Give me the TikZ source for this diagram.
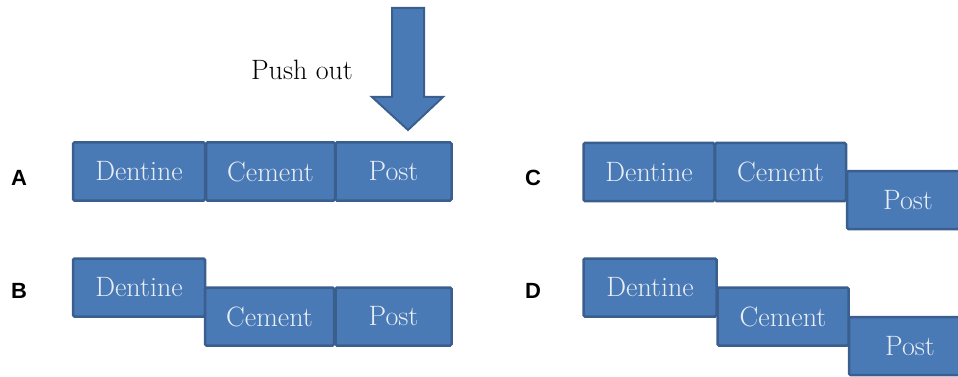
\documentclass[tikz,border=0pt]{standalone}
\usepackage{fontspec}
\newfontfamily\labelfont{Liberation Sans}
\definecolor{boxfill}{HTML}{4A7AB5}
\definecolor{boxline}{HTML}{3A5F8E}
\definecolor{boxtext}{HTML}{E8EEF6}
\begin{document}
\begin{tikzpicture}[x=1pt,y=-1pt,
  layer/.style={draw=boxline, fill=boxfill, line width=2.5pt, rounded corners=1.5pt,
    text=boxtext, font=\fontsize{28}{28}\selectfont, inner sep=0pt,
    minimum height=#1},
  layer/.default=58pt,
  panel/.style={font=\labelfont\bfseries\fontsize{22}{22}\selectfont, text=black, inner sep=0pt}]
\clip (0,0) rectangle (958,377);
\useasboundingbox (0,0) rectangle (958,377);
% Push-out arrow
\draw[draw=boxline, fill=boxfill, line width=2pt]
  (392,8) -- (424,8) -- (424,97) -- (443,97) -- (408,130) -- (372,97) -- (392,97) -- cycle;
\node[font=\fontsize{28}{28}\selectfont, inner sep=0pt] (push) at (302,70) {Push out};
% Panel labels
\node[panel] (la) at (19,178) {A};
\node[panel] (lb) at (19,291) {B};
\node[panel] (lc) at (533,178) {C};
\node[panel] (ld) at (533,291) {D};
% Row A
\node[layer, minimum width=132pt] (a1) at (139,171.5) {Dentine};
\node[layer, minimum width=129pt] (a2) at (270.5,171.5) {Cement};
\node[layer, minimum width=116pt] (a3) at (393.5,171.5) {Post};
% Row B
\node[layer, minimum width=132pt] (b1) at (139,287.5) {Dentine};
\node[layer, minimum width=129pt] (b2) at (269.5,316.5) {Cement};
\node[layer, minimum width=116pt] (b3) at (393.5,316.5) {Post};
% Row C
\node[layer, minimum width=131pt] (c1) at (649,172) {Dentine};
\node[layer, minimum width=131pt] (c2) at (780.5,172) {Cement};
\node[layer, minimum width=122pt] (c3) at (908,200) {Post};
% Row D
\node[layer, minimum width=133pt] (d1) at (650,287.5) {Dentine};
\node[layer, minimum width=131pt] (d2) at (783,316.5) {Cement};
\node[layer, minimum width=122pt] (d3) at (910,346) {Post};
\end{tikzpicture}
\end{document}
